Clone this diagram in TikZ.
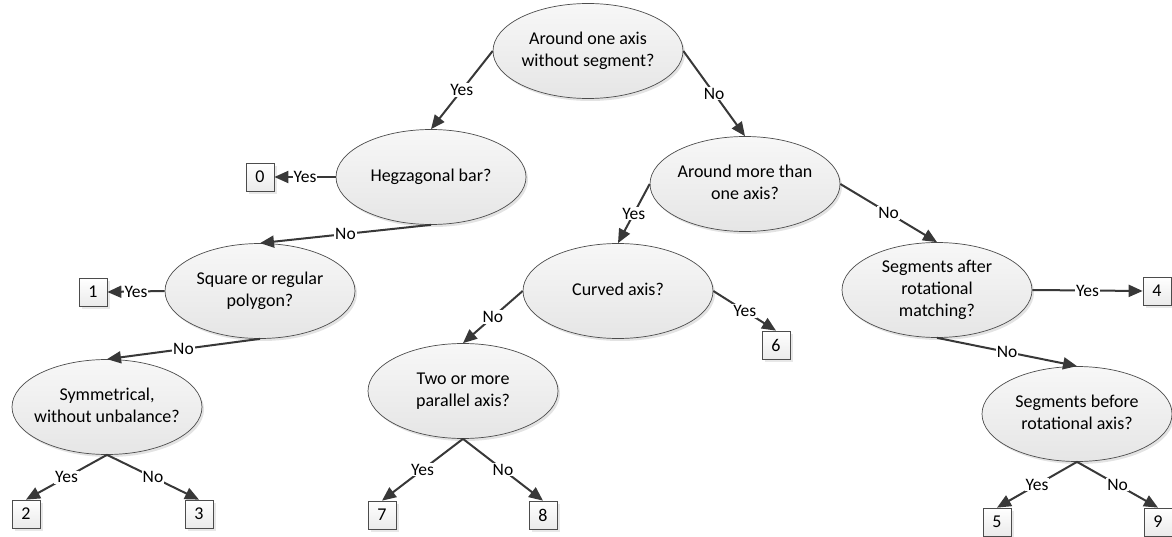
\documentclass[tikz,border=0pt]{standalone}
\usepackage{fontspec}
\setmainfont{Carlito}
\usetikzlibrary{shapes.geometric,arrows.meta,shadows}

% two-line question text that does not widen the ellipse
\newcommand{\qtxt}[1]{\makebox[0pt]{\begin{tabular}{@{}c@{}}#1\end{tabular}}}

\tikzset{
  question/.style={ellipse, draw=black!70, line width=0.7pt,
    top color=black!3, bottom color=black!10,
    minimum width=190pt, minimum height=95pt, inner sep=0pt,
    font=\fontsize{18}{22}\selectfont,
    drop shadow={shadow xshift=2pt, shadow yshift=-2.5pt, fill=black!22}},
  leaf/.style={rectangle, draw=black!70, line width=0.7pt,
    top color=white, bottom color=black!8,
    minimum width=28pt, minimum height=28pt, inner sep=0pt,
    font=\fontsize{18}{22}\selectfont,
    drop shadow={shadow xshift=3pt, shadow yshift=-3pt, fill=black!18}},
  link/.style={draw=black!78, line width=2pt,
    -{Triangle[length=14pt,width=12pt]}},
  answer/.style={fill=white, inner sep=1pt, text=black,
    font=\fontsize{17.5}{20}\selectfont},
}

\begin{document}
\begin{tikzpicture}[x=1pt, y=-1pt]
\useasboundingbox (0,0) rectangle (1172,537);

% decision questions
\node[question] (root)      at (588,51)  {\qtxt{Around one axis\\without segment?}};
\node[question] (hegz)      at (431,177) {\qtxt{Hegzagonal bar?}};
\node[question] (more)      at (745,184) {\qtxt{Around more than\\one axis?}};
\node[question] (square)    at (260,291) {\qtxt{Square or regular\\polygon?}};
\node[question] (curved)    at (618,291) {\qtxt{Curved axis?}};
\node[question] (segafter)  at (937,290) {\qtxt{Segments after\\rotational\\matching?}};
\node[question] (symm)      at (107,407) {\qtxt{Symmetrical,\\without unbalance?}};
\node[question] (two)       at (463,391) {\qtxt{Two or more\\parallel axis?}};
\node[question] (segbefore) at (1077,414) {\qtxt{Segments before\\rotational axis?}};

% class codes
\node[leaf] (b0) at (260,177)  {0};
\node[leaf] (b1) at (93,292)   {1};
\node[leaf] (b2) at (26,514)   {2};
\node[leaf] (b3) at (199,514)  {3};
\node[leaf] (b4) at (1157,291) {4};
\node[leaf] (b5) at (997,522)  {5};
\node[leaf] (b6) at (776,345)  {6};
\node[leaf] (b7) at (382,515)  {7};
\node[leaf] (b8) at (543,515)  {8};
\node[leaf] (b9) at (1158,522) {9};

% branches
\draw[link] (root.west)   -- node[answer] (a1)  {Yes} (hegz.north);
\draw[link] (root.east)   -- node[answer] (a2)  {No}  (more.north);
\draw[link] (hegz.west)   -- node[answer] (a3)  {Yes} (b0.east);
\draw[link] (hegz.south)  -- node[answer] (a4)  {No}  (square.north);
\draw[link] (more.west)   -- node[answer] (a5)  {Yes} (curved.north);
\draw[link] (more.east)   -- node[answer] (a6)  {No}  (segafter.north);
\draw[link] (square.west) -- node[answer] (a7)  {Yes} (b1.east);
\draw[link] (square.south)-- node[answer] (a8)  {No}  (symm.north);
\draw[link] (curved.west) -- node[answer] (a9)  {No}  (two.north);
\draw[link] (curved.east) -- node[answer] (a10) {Yes} (b6.north);
\draw[link] (segafter.east)  -- node[answer] (a11) {Yes} (b4.west);
\draw[link] (segafter.south) -- node[answer] (a12) {No}  (segbefore.north);
\draw[link] (symm.south)  -- node[answer] (a13) {Yes} (b2.north);
\draw[link] (symm.south)  -- node[answer] (a14) {No}  (b3.north);
\draw[link] (two.south)   -- node[answer] (a15) {Yes} (b7.north);
\draw[link] (two.south)   -- node[answer] (a16) {No}  (b8.north);
\draw[link] (segbefore.south) -- node[answer] (a17) {Yes} (b5.north);
\draw[link] (segbefore.south) -- node[answer] (a18) {No}  (b9.north);
\end{tikzpicture}
\end{document}
